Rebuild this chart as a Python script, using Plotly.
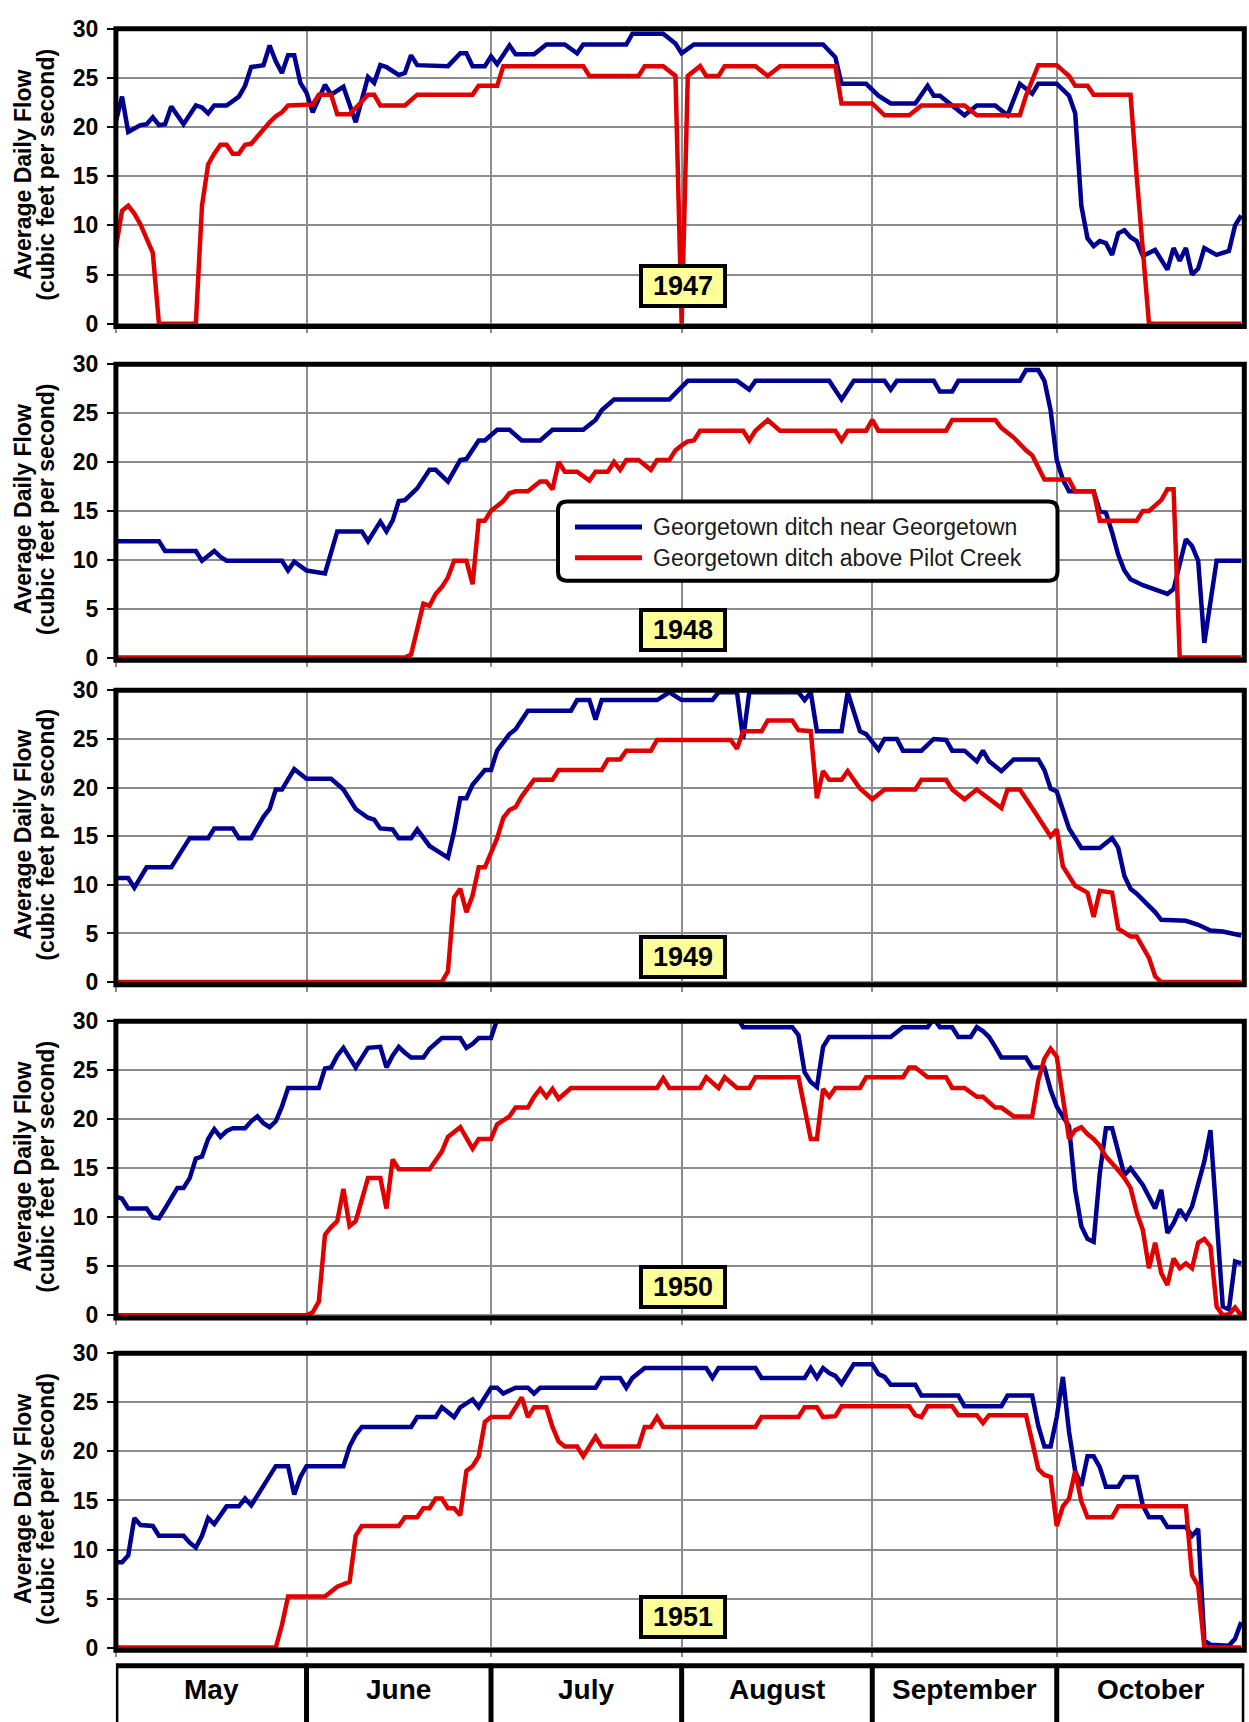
import plotly.graph_objects as go

W, H = 1249, 1722

# ---------------- data (day index 0 = May 1, values in cfs) ----------------
MONTHS = ["May", "June", "July", "August", "September", "October"]
MONTH_STARTS = [0, 31, 61, 92, 123, 153, 183.5]
YEARS = ["1947", "1948", "1949", "1950", "1951"]
SERIES_NAMES = ["Georgetown ditch near Georgetown", "Georgetown ditch above Pilot Creek"]

NEAR_1947 = [(0,20.6),(1,23.1),(2,19.5),(4,20.2),(5,20.3),(6,21.0),(7,20.2),(8,20.3),(9,22.1),(11,20.3),
    (13,22.2),(14,22.0),(15,21.4),(16,22.2),(18,22.2),(20,23.1),(21,24.2),(22,26.1),(24,26.3),(25,28.3),
    (26,26.7),(27,25.5),(28,27.3),(29,27.3),(30,24.5),(31,23.5),(32,21.5),(34,24.3),(35,23.3),(37,24.1),
    (39,20.5),(41,25.1),(42,24.5),(43,26.3),(44,26.1),(46,25.3),(47,25.5),(48,27.3),(49,26.3),(54,26.2),
    (56,27.5),(57,27.5),(58,26.2),(60,26.2),(61,27.2),(62,26.4),(64,28.3),(65,27.4),(68,27.4),(70,28.4),
    (73,28.4),(75,27.5),(76,28.4),(83,28.4),(84,29.5),(89,29.5),(91,28.5),(92,27.5),(94,28.4),(115,28.4),
    (117,27.1),(118,24.4),(122,24.4),(124,23.2),(126,22.4),(130,22.4),(132,24.2),(133,23.2),(134,23.2),(136,22.2),
    (138,21.2),(140,22.2),(143,22.2),(145,21.2),(147,24.4),(149,23.4),(150,24.4),(153,24.4),(155,23.2),(156,21.4),
    (157,12.0),(158,8.7),(159,7.9),(160,8.4),(161,8.2),(162,7.0),(163,9.2),(164,9.5),(165,8.8),(166,8.4),
    (167,6.9),(169,7.5),(170,6.5),(171,5.5),(172,7.7),(173,6.4),(174,7.7),(175,5.0),(176,5.6),(177,7.7),
    (179,7.0),(181,7.4),(182,10.0),(183,11.0)]
PILOT_1947 = [(0,7.7),(1,11.5),(2,12.0),(3,11.2),(4,10.1),(6,7.2),(7,0),(13,0),(14,12.0),(15,16.2),
    (16,17.3),(17,18.2),(18,18.2),(19,17.3),(20,17.3),(21,18.2),(22,18.3),(24,19.8),(25,20.5),(26,21.1),
    (27,21.5),(28,22.2),(32,22.3),(33,23.3),(35,23.3),(36,21.3),(38,21.3),(40,22.6),(41,23.3),(42,23.3),
    (43,22.2),(47,22.2),(49,23.3),(58,23.3),(59,24.2),(62,24.2),(63,26.2),(76,26.2),(77,25.2),(85,25.2),
    (86,26.2),(89,26.2),(91,25.2),(92,0),(93,25.2),(95,26.2),(96,25.2),(98,25.2),(99,26.2),(104,26.2),
    (106,25.2),(108,26.2),(117,26.2),(118,22.4),(123,22.4),(125,21.2),(129,21.2),(131,22.2),(138,22.2),(140,21.2),
    (147,21.2),(148,23.2),(150,26.3),(153,26.3),(155,25.2),(156,24.2),(158,24.2),(159,23.3),(165,23.3),(166,15.0),
    (167,7.5),(168,0),(183,0)]

NEAR_1948 = [(0,11.9),(7,11.9),(8,10.9),(13,10.9),(14,9.9),(16,10.9),(17,10.3),(18,9.9),(27,9.9),(28,8.9),
    (29,9.8),(31,8.9),(34,8.6),(36,12.9),(40,12.9),(41,11.9),(43,13.9),(44,12.9),(45,14.0),(46,16.0),
    (47,16.1),(49,17.3),(51,19.2),(52,19.2),(54,18.0),(56,20.2),(57,20.3),(59,22.2),(60,22.2),(62,23.3),
    (64,23.3),(66,22.2),(69,22.2),(71,23.3),(76,23.3),(78,24.3),(79,25.3),(81,26.4),(90,26.4),(93,28.3),
    (101,28.3),(103,27.4),(104,28.3),(116,28.3),(118,26.4),(120,28.3),(125,28.3),(126,27.4),(127,28.3),(133,28.3),
    (134,27.2),(136,27.2),(137,28.3),(147,28.3),(148,29.4),(150,29.4),(151,28.3),(152,25.3),(153,20.2),(154,18.2),
    (155,17.0),(159,17.0),(160,15.0),(161,14.8),(162,12.8),(163,10.5),(164,8.9),(165,8.0),(167,7.4),(169,6.9),
    (171,6.5),(172,7.0),(173,9.7),(174,12.1),(175,11.4),(176,9.9),(177,1.5),(178,5.5),(179,9.9),(183,9.9)]
PILOT_1948 = [(0,0),(47,0),(48,0.3),(49,3.0),(50,5.5),(51,5.3),(52,6.5),(53,7.2),(54,8.2),(55,9.9),
    (57,9.9),(58,7.5),(59,14.0),(60,14.0),(61,15.0),(62,15.5),(63,16.0),(64,16.8),(65,17.0),(67,17.0),
    (68,17.5),(69,18.0),(70,18.0),(71,17.2),(72,20.0),(73,19.0),(75,19.0),(77,18.1),(78,19.0),(80,19.0),
    (81,20.0),(82,19.2),(83,20.2),(85,20.2),(87,19.2),(88,20.2),(90,20.2),(91,21.2),(92,21.7),(93,22.1),
    (94,22.2),(95,23.2),(102,23.2),(103,22.2),(104,23.2),(106,24.3),(108,23.2),(117,23.2),(118,22.2),(119,23.2),
    (122,23.2),(123,24.3),(124,23.2),(135,23.2),(136,24.3),(143,24.3),(144,23.5),(145,23.0),(146,22.5),(148,21.2),
    (149,20.7),(151,18.2),(155,18.2),(156,17.0),(159,17.0),(160,14.0),(166,14.0),(167,15.0),(168,15.0),(170,16.1),
    (171,17.2),(172,17.2),(173,0),(183,0)]

NEAR_1949 = [(0,10.7),(2,10.7),(3,9.7),(5,11.8),(9,11.8),(12,14.8),(15,14.8),(16,15.8),(19,15.8),(20,14.8),
    (22,14.8),(24,17.0),(25,17.8),(26,19.8),(27,19.8),(29,21.9),(31,20.9),(35,20.9),(37,19.8),(38,18.9),
    (39,17.8),(41,16.9),(42,16.7),(43,15.8),(45,15.7),(46,14.8),(48,14.8),(49,15.7),(51,14.0),(52,13.6),
    (54,12.8),(55,15.5),(56,18.9),(57,18.9),(58,20.3),(60,21.8),(61,21.8),(62,23.8),(64,25.5),(65,26.0),
    (67,27.9),(74,27.9),(75,29.0),(77,29.0),(78,27.0),(79,29.0),(88,29.0),(90,29.8),(92,29.0),(97,29.0),
    (98,29.8),(101,29.8),(102,25.0),(103,29.8),(111,29.8),(112,29.0),(113,29.8),(114,25.8),(118,25.8),(119,29.8),
    (121,25.8),(122,25.5),(124,23.9),(125,25.0),(127,25.0),(128,23.8),(131,23.8),(133,25.0),(135,24.9),(136,23.8),
    (138,23.8),(140,22.7),(141,23.8),(142,22.7),(144,21.7),(146,22.9),(150,22.9),(151,21.8),(152,19.9),(153,19.6),
    (155,15.8),(157,13.8),(160,13.8),(162,14.8),(163,13.8),(164,10.9),(165,9.6),(166,9.1),(169,7.2),(170,6.4),
    (174,6.3),(176,5.9),(178,5.3),(180,5.2),(183,4.8)]
PILOT_1949 = [(0,0),(53,0),(54,1.1),(55,8.7),(56,9.6),(57,7.2),(58,8.9),(59,11.8),(60,11.8),(62,14.8),
    (63,16.9),(64,17.7),(65,18.0),(66,19.1),(68,20.8),(71,20.8),(72,21.8),(79,21.8),(80,22.9),(82,22.9),
    (83,23.8),(87,23.8),(88,24.9),(100,24.9),(101,24.0),(102,25.8),(105,25.8),(106,26.9),(110,26.9),(111,25.9),
    (113,25.8),(114,18.9),(115,21.7),(116,20.8),(118,20.8),(119,21.7),(121,19.9),(123,18.8),(125,19.8),(130,19.8),
    (131,20.8),(135,20.8),(136,19.8),(138,18.8),(140,19.8),(142,18.8),(144,17.9),(145,19.8),(147,19.8),(149,17.9),
    (150,17.0),(152,15.0),(153,15.7),(154,11.9),(156,9.9),(158,9.2),(159,6.7),(160,9.4),(162,9.2),(163,5.5),
    (165,4.7),(166,4.7),(168,2.5),(169,0.6),(170,0),(183,0)]

NEAR_1950 = [(0,12.1),(1,11.9),(2,10.9),(5,10.9),(6,10.0),(7,9.9),(8,10.9),(9,12.0),(10,13.0),(11,13.0),
    (12,14.0),(13,16.0),(14,16.2),(15,18.0),(16,19.0),(17,18.2),(18,18.8),(19,19.1),(21,19.1),(22,19.8),
    (23,20.3),(24,19.6),(25,19.2),(26,19.8),(27,21.3),(28,23.2),(33,23.2),(34,25.2),(35,25.3),(36,26.5),
    (37,27.3),(38,26.3),(39,25.3),(40,26.3),(41,27.3),(43,27.4),(44,25.3),(45,26.5),(46,27.4),(47,26.8),
    (48,26.3),(50,26.3),(51,27.2),(53,28.3),(56,28.3),(57,27.3),(58,27.7),(59,28.3),(61,28.3),(62,30.2),
    (63,31.5),(100,31.5),(101,30.5),(102,29.4),(110,29.4),(111,28.6),(112,24.8),(113,23.8),(114,23.3),(115,27.4),
    (116,28.4),(126,28.4),(128,29.4),(132,29.4),(133,30.3),(134,29.4),(136,29.4),(137,28.4),(139,28.4),(140,29.4),
    (141,29.0),(142,28.4),(143,27.4),(144,26.3),(148,26.3),(149,25.3),(151,25.3),(152,23.0),(153,21.3),(155,19.3),
    (156,12.8),(157,9.1),(158,7.8),(159,7.5),(160,14.5),(161,19.1),(162,19.1),(163,16.5),(164,14.3),(165,15.0),
    (167,13.3),(169,10.9),(170,12.8),(171,8.4),(172,9.4),(173,10.8),(174,9.9),(175,11.1),(177,15.7),(178,18.9),
    (179,10.1),(180,0.9),(181,0.6),(182,5.5),(183,5.3)]
PILOT_1950 = [(0,0),(31,0),(32,0.3),(33,1.4),(34,8.2),(35,9.0),(36,9.6),(37,12.9),(38,9.1),(39,9.6),
    (40,11.8),(41,14.0),(43,14.0),(44,10.9),(45,15.9),(46,14.9),(51,14.9),(52,15.8),(53,16.7),(54,18.2),
    (56,19.2),(58,17.0),(59,18.0),(61,18.0),(62,19.5),(63,19.9),(64,20.3),(65,21.2),(67,21.2),(68,22.3),
    (69,23.1),(70,22.3),(71,23.1),(72,22.1),(74,23.2),(88,23.2),(89,24.2),(90,23.2),(95,23.2),(96,24.3),
    (98,23.2),(99,24.3),(101,23.2),(103,23.2),(104,24.3),(111,24.3),(112,21.3),(113,18.0),(114,18.0),(115,23.1),
    (116,22.3),(117,23.2),(121,23.2),(122,24.3),(128,24.3),(129,25.3),(130,25.3),(132,24.3),(135,24.3),(136,23.2),
    (138,23.2),(140,22.3),(141,22.3),(143,21.2),(144,21.2),(146,20.3),(149,20.3),(150,24.0),(151,26.2),(152,27.2),
    (153,26.4),(154,21.9),(155,18.0),(156,18.9),(157,19.2),(158,18.5),(159,18.0),(160,17.3),(161,16.2),(163,14.8),
    (164,14.0),(165,13.0),(166,10.5),(167,8.7),(168,4.8),(169,7.4),(170,4.3),(171,3.1),(172,5.8),(173,4.8),
    (174,5.3),(175,4.8),(176,7.4),(177,7.8),(178,7.0),(179,0.9),(180,0),(181,0.1),(182,0.8),(183,0)]

NEAR_1951 = [(0,8.7),(1,8.7),(2,9.4),(3,13.2),(4,12.5),(6,12.4),(7,11.4),(11,11.4),(12,10.7),(13,10.2),
    (14,11.4),(15,13.2),(16,12.6),(18,14.4),(20,14.4),(21,15.2),(22,14.5),(24,16.4),(25,17.5),(26,18.5),
    (28,18.5),(29,15.6),(30,17.4),(31,18.5),(37,18.5),(38,20.5),(39,21.7),(40,22.5),(48,22.5),(49,23.5),
    (52,23.5),(53,24.5),(55,23.5),(56,24.5),(58,25.3),(59,24.5),(60,25.5),(61,26.5),(62,26.5),(63,25.9),
    (65,26.5),(67,26.5),(68,25.9),(69,26.5),(78,26.5),(79,27.5),(82,27.5),(83,26.5),(84,27.5),(86,28.5),
    (96,28.5),(97,27.5),(98,28.5),(104,28.5),(105,27.5),(112,27.5),(113,28.5),(114,27.5),(115,28.5),(116,28.0),
    (117,27.7),(118,26.9),(119,27.9),(120,28.9),(123,28.9),(124,27.9),(125,27.6),(126,26.8),(130,26.8),(131,25.7),
    (137,25.7),(138,24.6),(144,24.6),(145,25.7),(149,25.7),(150,22.6),(151,20.5),(152,20.5),(153,23.5),(154,27.6),
    (155,22.0),(156,18.0),(157,16.5),(158,19.5),(159,19.5),(160,18.4),(161,16.4),(163,16.4),(164,17.4),(166,17.4),
    (167,14.5),(168,13.3),(170,13.3),(171,12.3),(174,12.3),(175,11.4),(176,12.1),(177,0.7),(178,0.3),(181,0.2),
    (182,0.9),(183,2.6)]
PILOT_1951 = [(0,0),(26,0),(27,2.3),(28,5.2),(34,5.2),(35,5.7),(36,6.2),(38,6.7),(39,11.4),(40,12.4),
    (46,12.4),(47,13.3),(49,13.3),(50,14.2),(51,14.2),(52,15.2),(53,15.2),(54,14.2),(55,14.2),(56,13.5),
    (57,18.0),(58,18.5),(59,19.5),(60,23.0),(61,23.5),(64,23.5),(65,24.5),(66,25.5),(67,23.5),(68,24.5),
    (70,24.5),(71,22.5),(72,21.0),(73,20.5),(75,20.5),(76,19.5),(77,20.5),(78,21.5),(79,20.5),(85,20.5),
    (86,22.5),(87,22.5),(88,23.5),(89,22.5),(104,22.5),(105,23.5),(111,23.5),(112,24.5),(114,24.5),(115,23.5),
    (117,23.6),(118,24.6),(129,24.6),(130,23.7),(131,23.5),(132,24.6),(136,24.6),(137,23.7),(140,23.7),(141,22.9),
    (142,23.7),(148,23.7),(149,21.0),(150,18.2),(151,17.6),(152,17.4),(153,12.4),(154,14.4),(155,15.2),(156,18.0),
    (157,14.9),(158,13.3),(162,13.3),(163,14.4),(174,14.4),(175,7.4),(176,6.3),(177,0),(183,0)]

NEAR = [NEAR_1947, NEAR_1948, NEAR_1949, NEAR_1950, NEAR_1951]
PILOT = [PILOT_1947, PILOT_1948, PILOT_1949, PILOT_1950, PILOT_1951]
YEAR_LABEL_Y = [3.8, 2.85, 2.55, 2.85, 3.1]

# ---------------- layout geometry (pixels) ----------------
X0, X1 = 115.9, 1244.3
PANELS = [(16, 317.7), (356, 656), (686.5, 985), (1022, 1322.7), (1358.5, 1659.5)]
BLUE = "#000090"
RED = "#E00000"
GRID = "#8c8c8c"
FONT = "Liberation Sans, Arial, Helvetica, sans-serif"

def px(x):
    return x / W

def py(y):
    return 1 - y / H

fig = go.Figure()
layout = dict(
    width=W, height=H, margin=dict(l=0, r=0, t=0, b=0),
    paper_bgcolor="white", plot_bgcolor="white", showlegend=False,
    font=dict(family=FONT, color="black"),
)
shapes = []
annotations = []

for i, (top, bot) in enumerate(PANELS):
    n = "" if i == 0 else str(i + 1)
    xa, ya = "x" + n, "y" + n
    for data, color, name in ((NEAR[i], BLUE, SERIES_NAMES[0]), (PILOT[i], RED, SERIES_NAMES[1])):
        xs, ys = zip(*data)
        fig.add_trace(go.Scatter(x=list(xs), y=list(ys), mode="lines", name=name,
                                 line=dict(color=color, width=4.5), xaxis=xa, yaxis=ya,
                                 hoverinfo="skip"))
    layout["xaxis" + n] = dict(
        domain=[px(X0), px(X1)], anchor=ya, range=[0, MONTH_STARTS[-1]],
        tickvals=MONTH_STARTS[:-1], showticklabels=False, ticks="outside", ticklen=6,
        tickwidth=2, tickcolor=GRID, showgrid=True, gridcolor=GRID, gridwidth=2,
        zeroline=False, showline=False, fixedrange=True,
    )
    layout["yaxis" + n] = dict(
        domain=[py(bot), py(top)], anchor=xa, range=[-0.28, 30],
        tickvals=[0, 5, 10, 15, 20, 25, 30], ticks="outside", ticklen=8, tickwidth=2,
        tickcolor="black", tickfont=dict(size=23, family=FONT, weight="bold", color="black"),
        ticklabelstandoff=4,
        showgrid=True, gridcolor=GRID, gridwidth=2, zeroline=False, showline=False,
        fixedrange=True,
    )
    shapes.append(dict(type="rect", xref=xa + " domain", yref=ya + " domain",
                       x0=0, x1=1, y0=0, y1=1, line=dict(color="black", width=5),
                       layer="above"))
    cy = (top + bot) / 2 - 3
    annotations.append(dict(text="<b>Average Daily Flow</b>", x=px(23), y=py(cy),
                            xref="paper", yref="paper", showarrow=False, textangle=-90,
                            xanchor="center", yanchor="middle",
                            font=dict(size=23, family=FONT, color="black")))
    annotations.append(dict(text="<b>(cubic feet per second)</b>", x=px(46), y=py(cy),
                            xref="paper", yref="paper", showarrow=False, textangle=-90,
                            xanchor="center", yanchor="middle",
                            font=dict(size=23, family=FONT, color="black")))
    annotations.append(dict(text="<b>" + YEARS[i] + "</b>", x=92.3, y=YEAR_LABEL_Y[i],
                            xref=xa, yref=ya, showarrow=False, xanchor="center",
                            yanchor="middle", bgcolor="#FFFF99", bordercolor="black",
                            borderwidth=4, borderpad=0, width=80, height=36,
                            font=dict(size=27, family=FONT, color="black")))

# ---------------- legend (drawn in panel 2) ----------------
LX0, LX1, LY0, LY1, R = 558, 1057.5, 495, 575.4, 9
rx, ry = R / W, R / H
path = (f"M {px(LX0)+rx},{py(LY0)} L {px(LX1)-rx},{py(LY0)} Q {px(LX1)},{py(LY0)} {px(LX1)},{py(LY0)-ry} "
        f"L {px(LX1)},{py(LY1)+ry} Q {px(LX1)},{py(LY1)} {px(LX1)-rx},{py(LY1)} "
        f"L {px(LX0)+rx},{py(LY1)} Q {px(LX0)},{py(LY1)} {px(LX0)},{py(LY1)+ry} "
        f"L {px(LX0)},{py(LY0)-ry} Q {px(LX0)},{py(LY0)} {px(LX0)+rx},{py(LY0)} Z")
shapes.append(dict(type="path", xref="paper", yref="paper", path=path,
                   fillcolor="white", line=dict(color="black", width=4), layer="above"))
for k, (row_y, color) in enumerate(((521, BLUE), (552, RED))):
    shapes.append(dict(type="line", xref="paper", yref="paper", x0=px(575), x1=px(642),
                       y0=py(row_y), y1=py(row_y), line=dict(color=color, width=5),
                       layer="above"))
    annotations.append(dict(text=SERIES_NAMES[k], x=px(651), y=py(row_y), xref="paper",
                            yref="paper", showarrow=False, xanchor="left", yanchor="middle",
                            font=dict(size=23, family=FONT, color="#1a1a1a")))

# ---------------- month table ----------------
TABLE_TOP = 1675
shapes.append(dict(type="line", xref="x5", yref="paper", x0=MONTH_STARTS[0], x1=MONTH_STARTS[-1],
                   y0=py(TABLE_TOP), y1=py(TABLE_TOP), line=dict(color="black", width=5)))
for m in MONTH_STARTS:
    shapes.append(dict(type="line", xref="x5", yref="paper", x0=m, x1=m,
                       y0=py(TABLE_TOP - 2), y1=py(H + 20), line=dict(color="black", width=5)))
for k, name in enumerate(MONTHS):
    mid = (MONTH_STARTS[k] + MONTH_STARTS[k + 1]) / 2
    annotations.append(dict(text="<b>" + name + "</b>", x=mid, y=py(1699), xref="x5",
                            yref="paper", showarrow=False, xanchor="center", yanchor="middle",
                            font=dict(size=28, family=FONT, color="black")))

layout["shapes"] = shapes
layout["annotations"] = annotations
fig.update_layout(**layout)
fig.write_html("out.html")
